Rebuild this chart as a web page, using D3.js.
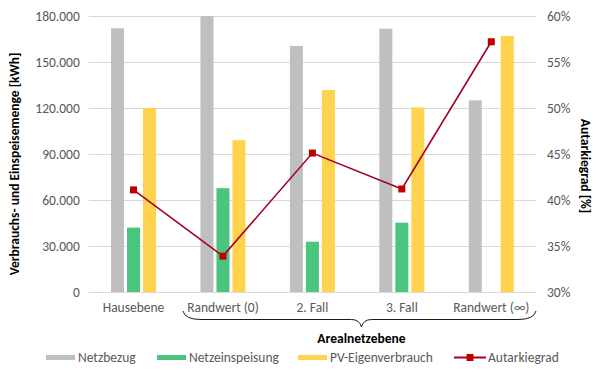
<!DOCTYPE html>
<html>
<head>
<meta charset="utf-8">
<script src="https://cdn.jsdelivr.net/npm/d3@7"></script>
<style>
  body { margin: 0; background: #fff; }
  text { font-family: Carlito, "Liberation Sans Narrow", "Liberation Sans", sans-serif; }
</style>
</head>
<body>
<div id="chart"></div>
<script>
///////////////////////////////////////////////
// Data ///////////////////////////////////////
///////////////////////////////////////////////

var categories = ["Hausebene", "Randwert (0)", "2. Fall", "3. Fall", "Randwert (\u221E)"];
var netzbezug = [172000, 180000, 160500, 171700, 125000];
var netzeinspeisung = [42000, 67700, 32800, 45200, null];
var eigenverbrauch = [120000, 99000, 131700, 120400, 167000];
var autarkiegrad = [41.1, 33.9, 45.1, 41.2, 57.2];
var leftTicks = [0, 30000, 60000, 90000, 120000, 150000, 180000];
var rightTicks = [30, 35, 40, 45, 50, 55, 60];

var seriesNames = ["Netzbezug", "Netzeinspeisung", "PV-Eigenverbrauch"];
var color = ["#BFBFBF", "#4BC47E", "#FFD34D"];
var lineColor = "#A50021", markerColor = "#C00000";

///////////////////////////////////////////////
// Graph parameters ///////////////////////////
///////////////////////////////////////////////

var W = 600, H = 381;
var margin = { top: 16, left: 88.8, right: 64, bottom: 89 };
var width = W - margin.left - margin.right;
var height = H - margin.top - margin.bottom;

var svg = d3.select("#chart").append("svg")
    .attr("width", W)
    .attr("height", H);

var g = svg.append("g")
    .attr("transform", "translate(" + margin.left + "," + margin.top + ")");

///////////////////////////////////////////////
// Scales /////////////////////////////////////
///////////////////////////////////////////////

var x = d3.scaleBand().domain(categories).range([0, width]);
var xs = d3.scaleBand().domain(seriesNames).range([0, 45]).paddingInner(3 / 16);
var y = d3.scaleLinear().domain([0, 180000]).range([height, 0]);
var y2 = d3.scaleLinear().domain([30, 60]).range([height, 0]);

var fmt = function(d) { return d === 0 ? "0" : d3.format(",")(d).replace(/,/g, "."); };

///////////////////////////////////////////////
// Axes ///////////////////////////////////////
///////////////////////////////////////////////

g.append("g")
  .call(d3.axisLeft(y).tickValues(leftTicks).tickSize(-width).tickFormat(fmt).tickPadding(9))
  .call(function(s) {
    s.select(".domain").remove();
    s.selectAll(".tick line").attr("stroke", "#D9D9D9");
    s.selectAll(".tick text").style("font-size", "13.5px").attr("fill", "#595959");
  });

g.append("g")
  .attr("transform", "translate(" + width + ",0)")
  .call(d3.axisRight(y2).tickValues(rightTicks).tickSize(0).tickFormat(function(d) { return d + "%"; }).tickPadding(11))
  .call(function(s) {
    s.select(".domain").remove();
    s.selectAll(".tick text").style("font-size", "13.5px").attr("fill", "#595959");
  });

g.append("g")
  .attr("transform", "translate(0," + height + ")")
  .call(d3.axisBottom(x).tickSize(0).tickPadding(10))
  .call(function(s) {
    s.select(".domain").remove();
    s.selectAll(".tick text").style("font-size", "13.5px").attr("fill", "#595959");
  });

// Axis titles
svg.append("text")
  .attr("transform", "translate(19,164) rotate(-90)")
  .attr("text-anchor", "middle")
  .style("font-size", "13.5px").style("font-weight", "bold")
  .text("Verbrauchs- und Einspeisemenge [kWh]");

svg.append("text")
  .attr("transform", "translate(581,166) rotate(90)")
  .attr("text-anchor", "middle")
  .style("font-size", "13.5px").style("font-weight", "bold")
  .text("Autarkiegrad [%]");

///////////////////////////////////////////////
// Bars ///////////////////////////////////////
///////////////////////////////////////////////

var allSeries = [netzbezug, netzeinspeisung, eigenverbrauch];

allSeries.forEach(function(values, si) {
  g.append("g").selectAll("rect")
    .data(categories.map(function(c, i) { return { cat: c, v: values[i] }; })
      .filter(function(d) { return d.v !== null; }))
    .enter().append("rect")
    .attr("x", function(d) { return x(d.cat) + x.bandwidth() / 2 - 22.5 + xs(seriesNames[si]); })
    .attr("width", xs.bandwidth())
    .attr("y", function(d) { return y(d.v); })
    .attr("height", function(d) { return height - y(d.v); })
    .attr("fill", color[si]);
});

///////////////////////////////////////////////
// Line ///////////////////////////////////////
///////////////////////////////////////////////

var lineData = categories.map(function(c, i) { return { cat: c, v: autarkiegrad[i] }; });

var line = d3.line()
  .x(function(d) { return x(d.cat) + x.bandwidth() / 2; })
  .y(function(d) { return y2(d.v); });

g.append("path")
  .datum(lineData)
  .attr("fill", "none")
  .attr("stroke", lineColor)
  .attr("stroke-width", 1.6)
  .attr("d", line);

g.selectAll(".marker")
  .data(lineData)
  .enter().append("rect")
  .attr("class", "marker")
  .attr("x", function(d) { return x(d.cat) + x.bandwidth() / 2 - 3.5; })
  .attr("y", function(d) { return y2(d.v) - 3.5; })
  .attr("width", 7).attr("height", 7)
  .attr("fill", markerColor);

///////////////////////////////////////////////
// Brace + group label ////////////////////////
///////////////////////////////////////////////

var bx0 = x(categories[1]) + x.bandwidth() / 2 - 40 + margin.left,
    bx1 = margin.left + width,
    bmid = (bx0 + bx1) / 2 + 2,
    by0 = 311, by1 = 319.5, by2 = 327;

svg.append("path")
  .attr("fill", "none")
  .attr("stroke", "#000")
  .attr("stroke-width", 0.9)
  .attr("d",
    "M" + bx0 + "," + by0 +
    " Q" + (bx0 + 2) + "," + by1 + " " + (bx0 + 18) + "," + by1 +
    " L" + (bmid - 10) + "," + by1 +
    " Q" + (bmid - 2) + "," + by1 + " " + bmid + "," + by2 +
    " Q" + (bmid + 2) + "," + by1 + " " + (bmid + 10) + "," + by1 +
    " L" + (bx1 - 18) + "," + by1 +
    " Q" + (bx1 - 2) + "," + by1 + " " + bx1 + "," + by0);

svg.append("text")
  .attr("x", bmid)
  .attr("y", 343)
  .attr("text-anchor", "middle")
  .style("font-size", "13.5px").style("font-weight", "bold")
  .text("Arealnetzebene");

///////////////////////////////////////////////
// Legend /////////////////////////////////////
///////////////////////////////////////////////

var legendItems = [
  { name: "Netzbezug", x: 46, type: "bar", c: color[0] },
  { name: "Netzeinspeisung", x: 157, type: "bar", c: color[1] },
  { name: "PV-Eigenverbrauch", x: 298, type: "bar", c: color[2] },
  { name: "Autarkiegrad", x: 454, type: "line", c: lineColor }
];

var legend = svg.append("g").selectAll("g")
  .data(legendItems)
  .enter().append("g")
  .attr("transform", function(d) { return "translate(" + d.x + ",357.5)"; });

legend.filter(function(d) { return d.type === "bar"; })
  .append("rect")
  .attr("x", 0).attr("y", -2.5).attr("width", 29).attr("height", 5)
  .attr("fill", function(d) { return d.c; });

var lineLegend = legend.filter(function(d) { return d.type === "line"; });
lineLegend.append("line")
  .attr("x1", 0).attr("x2", 32).attr("y1", 0).attr("y2", 0)
  .attr("stroke", lineColor).attr("stroke-width", 2);
lineLegend.append("rect")
  .attr("x", 12.5).attr("y", -3.5).attr("width", 7).attr("height", 7)
  .attr("fill", markerColor);

legend.append("text")
  .attr("x", function(d) { return d.type === "line" ? 34 : 32; })
  .attr("dy", "0.35em")
  .style("font-size", "13.5px")
  .attr("fill", "#595959")
  .text(function(d) { return d.name; });
</script>
</body>
</html>
